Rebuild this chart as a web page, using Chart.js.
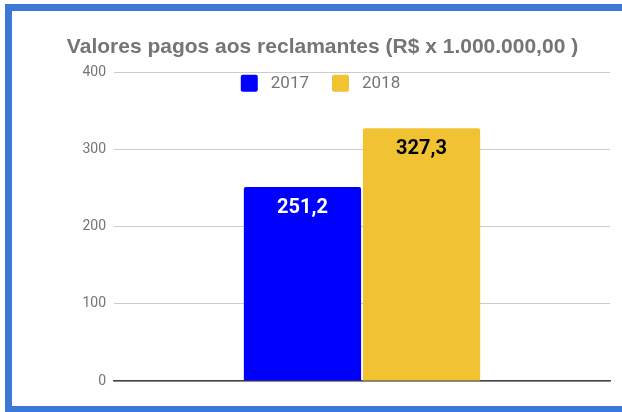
<!DOCTYPE html>
<html>
<head>
<meta charset="utf-8">
<script src="https://cdn.jsdelivr.net/npm/chart.js@4"></script>
<style>
    html, body { margin: 0; padding: 0; background: #fff; overflow: hidden; }
    #frame {
        position: absolute; left: 5px; top: 4px; width: 700px; height: 409px;
        box-sizing: border-box; border: 7px solid #3c78d8;
    }
    #wrap { position: absolute; left: 0; top: 0; width: 622px; height: 412px; }
</style>
</head>
<body>
<div id="frame"></div>
<div id="wrap"><canvas id="valores-chart"></canvas></div>
<script>
// Chart data
const categories = [''];
const years = ['2017', '2018'];
const values2017 = [251.2];
const values2018 = [327.3];
const yTicks = [0, 100, 200, 300, 400];

// 251.2 -> "251,2"
function formatValue(v) {
    return v.toFixed(1).replace('.', ',');
}

// Value labels drawn inside the top of each bar
const valueLabels = {
    id: 'valueLabels',
    afterDatasetsDraw(chart) {
        const ctx = chart.ctx;
        chart.data.datasets.forEach((ds, i) => {
            chart.getDatasetMeta(i).data.forEach((bar, j) => {
                ctx.save();
                ctx.font = 'bold 20px Roboto';
                ctx.fillStyle = ds.labelColor;
                ctx.textAlign = 'center';
                ctx.textBaseline = 'middle';
                ctx.fillText(formatValue(ds.data[j]), bar.x, bar.y + 21);
                ctx.restore();
            });
        });
    }
};

// Legend sits inside the plot area, under the 400 line
const overlayLegend = {
    id: 'overlayLegend',
    afterDraw(chart) {
        const ctx = chart.ctx;
        const box = 17, gapText = 13, gapItem = 23;
        ctx.save();
        ctx.font = '17px Roboto';
        const widths = chart.data.datasets.map(ds => ctx.measureText(ds.label).width);
        let total = 0;
        widths.forEach((w, i) => { total += box + gapText + w + (i ? gapItem : 0); });
        const t = chart.titleBlock;
        let x = (t.left + t.right) / 2 - 2 - total / 2;
        const y = chart.chartArea.top + 11;
        chart.data.datasets.forEach((ds, i) => {
            ctx.fillStyle = ds.backgroundColor;
            ctx.beginPath();
            if (ctx.roundRect) ctx.roundRect(x, y - box / 2, box, box, 2);
            else ctx.rect(x, y - box / 2, box, box);
            ctx.fill();
            ctx.fillStyle = '#757575';
            ctx.textBaseline = 'middle';
            ctx.fillText(ds.label, x + box + gapText, y + 1);
            x += box + gapText + widths[i] + gapItem;
        });
        ctx.restore();
    }
};

const ctx = document.getElementById('valores-chart').getContext('2d');
new Chart(ctx, {
    type: 'bar',
    data: {
        labels: categories,
        datasets: [{
            label: years[0],
            data: values2017,
            backgroundColor: '#0000ff',
            labelColor: '#ffffff',
            borderRadius: 2,
            borderSkipped: 'bottom',
            categoryPercentage: 0.48,
            barPercentage: 0.985
        }, {
            label: years[1],
            data: values2018,
            backgroundColor: '#f1c232',
            labelColor: '#000000',
            borderRadius: 2,
            borderSkipped: 'bottom',
            categoryPercentage: 0.48,
            barPercentage: 0.985
        }]
    },
    options: {
        responsive: true,
        maintainAspectRatio: false,
        animation: false,
        layout: {
            padding: { top: 35, left: 35, right: 12, bottom: 23 }
        },
        plugins: {
            legend: { display: false },
            tooltip: { enabled: false },
            title: {
                display: true,
                text: 'Valores pagos aos reclamantes (R$ x 1.000.000,00 )',
                color: '#757575',
                font: { family: '"Liberation Sans", Arial, sans-serif', size: 21, weight: 'bold' },
                padding: { top: 0, bottom: 12 }
            }
        },
        scales: {
            y: {
                min: yTicks[0],
                max: yTicks[yTicks.length - 1],
                ticks: {
                    stepSize: yTicks[1] - yTicks[0],
                    color: '#757575',
                    padding: 8,
                    font: { family: 'Roboto', size: 14 }
                },
                grid: { color: '#cccccc', drawTicks: false },
                border: { display: false },
                afterFit(scale) { scale.width = 79; }
            },
            x: {
                ticks: { display: false },
                grid: { display: false },
                border: { color: '#444444', width: 1.5 }
            }
        }
    },
    plugins: [valueLabels, overlayLegend]
});
</script>
</body>
</html>
